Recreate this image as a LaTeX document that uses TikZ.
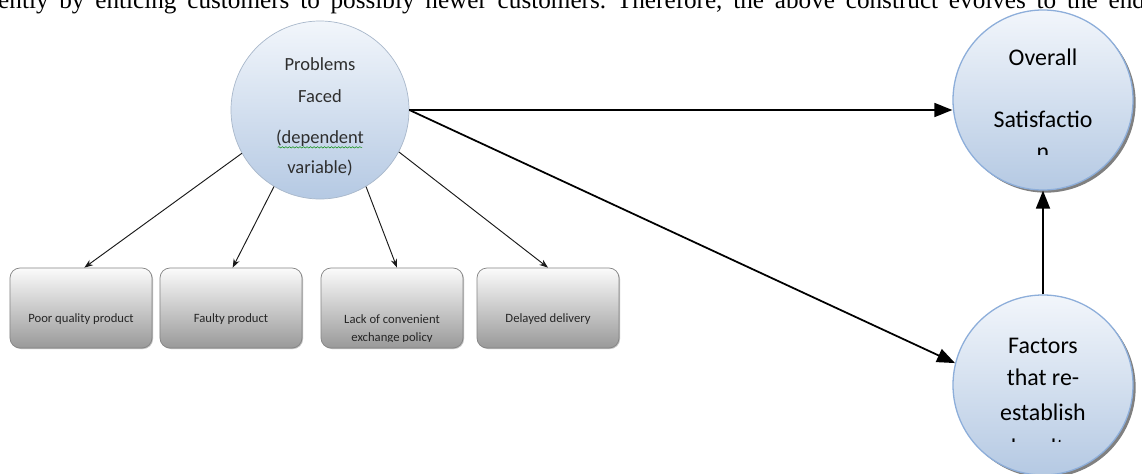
\documentclass[tikz,border=0pt]{standalone}
\usepackage{fontspec}
\setmainfont{Carlito}
\newfontfamily\bodyserif{Liberation Serif}
\usetikzlibrary{arrows.meta,shadows,decorations.pathmorphing}
\definecolor{circtop}{HTML}{F2F6FB}
\definecolor{circbot}{HTML}{B5C9E3}
\definecolor{pborder}{HTML}{A9B8CB}
\definecolor{oborder}{HTML}{8DAEDA}
\definecolor{boxtop}{HTML}{FBFBFB}
\definecolor{boxbot}{HTML}{999999}
\definecolor{boxborder}{HTML}{858585}
\definecolor{ptext}{HTML}{2E2E2E}
\tikzset{
  circp/.style={circle,draw=pborder,line width=0.6pt,top color=circtop,bottom color=circbot,minimum size=5.34cm,inner sep=0pt},
  circo/.style={circle,draw=oborder,line width=1.1pt,top color=circtop,bottom color=circbot,minimum size=5.4cm,inner sep=0pt,
    drop shadow={shadow xshift=0.08cm,shadow yshift=-0.08cm,fill=black!50,opacity=1}},
  boxnode/.style={rectangle,rounded corners=0.3cm,draw=boxborder,line width=0.6pt,top color=boxtop,bottom color=boxbot,
    minimum width=4.26cm,minimum height=2.4cm,inner sep=0pt,
    drop shadow={shadow xshift=0.03cm,shadow yshift=-0.03cm,fill=black!25,opacity=1}},
  ptxt/.style={anchor=base,inner sep=0pt,text=ptext,font=\fontsize{15.8pt}{19pt}\selectfont},
  otxt/.style={anchor=base,inner sep=0pt,text=black,font=\fontsize{20.4pt}{24pt}\selectfont},
  btxt/.style={anchor=base,inner sep=0pt,text=black!85,font=\fontsize{10.8pt}{13pt}\selectfont},
  bigarrow/.style={-{Triangle[length=0.54cm,width=0.42cm]},line width=1.5pt,black},
  smallarrow/.style={-{Stealth[length=0.26cm,width=0.19cm]},line width=0.8pt,black!90},
  squiggle/.style={green!55!black,line width=0.4pt,decorate,decoration={snake,amplitude=0.6pt,segment length=3pt}},
}
\begin{document}
\begin{tikzpicture}[x=0.03cm,y=-0.03cm]
\clip (0,0) rectangle (1142,474);
\fill[white] (0,0) rectangle (1142,474);
% clipped body text line at the top
\node[anchor=base west,inner sep=0pt,font=\bodyserif\fontsize{21.5pt}{26pt}\selectfont] (bodyline) at (-2,8)
  {\frenchspacing\makebox[34.4cm][s]{ently by enticing customers to possibly newer customers. Therefore, the above construct evolves to the end}};

% circles
\node[circp] (p) at (320,110) {};
\node[circo] (o) at (1043,100) {};
\node[circo] (f) at (1043,385) {};

% boxes
\node[boxnode] (b1) at (81,308) {};
\node[boxnode] (b2) at (231,308) {};
\node[boxnode] (b3) at (392,308) {};
\node[boxnode] (b4) at (548,308) {};

% circle texts
\node[ptxt] (p1) at (320,70) {Problems};
\node[ptxt] (p2) at (320,102) {Faced};
\node[ptxt] (p3) at (320,143) {(dependent};
\node[ptxt] (p4) at (320,173) {variable)};
\draw[squiggle] ([xshift=0.06cm,yshift=-0.13cm]p3.base west) -- ([xshift=-0.06cm,yshift=-0.13cm]p3.base east);

\node[otxt] (o1) at (1043,65) {Overall};
\node[otxt] (o2) at (1043,127) {Satisfactio};
\begin{scope}
  \clip (950,140) rectangle (1140,154);
  \node[otxt] (o3) at (1043,159) {n};
\end{scope}

\node[otxt] (f1) at (1043,353) {Factors};
\node[otxt] (f2) at (1043,385) {that re-};
\node[otxt] (f3) at (1043,420) {establish};
\begin{scope}
  \clip (950,430) rectangle (1140,441);
  \node[otxt] (f4) at (1043,455) {loyalty};
\end{scope}

% box texts
\node[btxt] (t1) at (81,322) {Poor quality product};
\node[btxt] (t2) at (231,322) {Faulty product};
\node[btxt] (t3) at (392,323) {Lack of convenient};
\begin{scope}
  \clip (322,326) rectangle (462,341);
  \node[btxt] (t3b) at (392,341) {exchange policy};
\end{scope}
\node[btxt] (t4) at (548,322) {Delayed delivery};

% connectors
\draw[bigarrow] (p.east) -- (p.east -| o.west);
\draw[bigarrow] (p.east) -- (f.166);
\draw[bigarrow] (f.north) -- (o.south);

\draw[smallarrow] (p.209) -- ([xshift=0.1cm]b1.north);
\draw[smallarrow] (p.239) -- ([xshift=0.05cm]b2.north);
\draw[smallarrow] (p.301) -- ([xshift=0.15cm]b3.north);
\draw[smallarrow] (p.332) -- (b4.north);
\end{tikzpicture}
\end{document}
